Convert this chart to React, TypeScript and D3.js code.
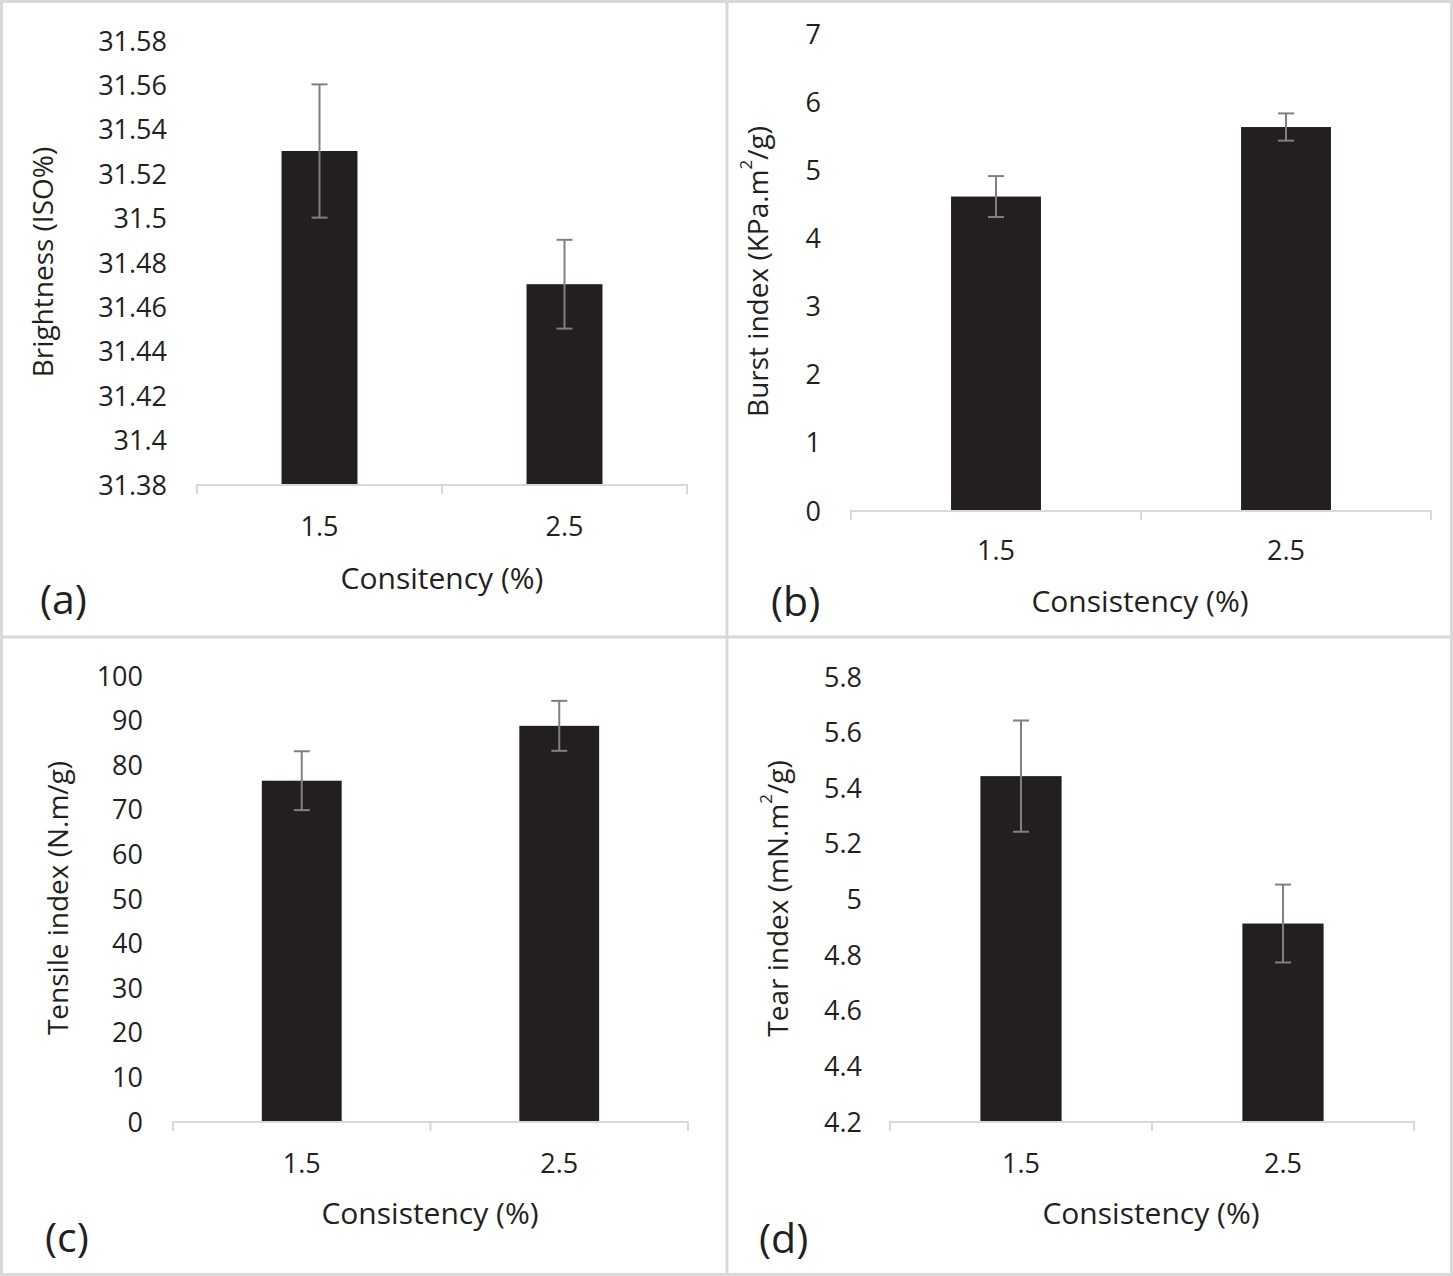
import React from "react";
import * as d3 from "d3";

const categories = ["1.5", "2.5"];

const brightnessValues = [31.53, 31.47];
const brightnessErrors = [0.03, 0.02];
const brightnessTicks = [31.38, 31.4, 31.42, 31.44, 31.46, 31.48, 31.5, 31.52, 31.54, 31.56, 31.58];

const burstValues = [4.6, 5.62];
const burstErrors = [0.3, 0.2];
const burstTicks = [0, 1, 2, 3, 4, 5, 6, 7];

const tensileValues = [76.3, 88.6];
const tensileErrors = [6.6, 5.6];
const tensileTicks = [0, 10, 20, 30, 40, 50, 60, 70, 80, 90, 100];

const tearValues = [5.44, 4.91];
const tearErrors = [0.2, 0.14];
const tearTicks = [4.2, 4.4, 4.6, 4.8, 5, 5.2, 5.4, 5.6, 5.8];

const W = 1453;
const H = 1276;
const FONT = "'Open Sans', Lato, sans-serif";
const TEXT = "#231f20";
const BAR = "#231f20";
const ERR = "#808080";
const AXIS = "#d9d9d9";
const TICK_FS = 27;
const TITLE_FS = 28;
const XTITLE_FS = 30;
const TAG_FS = 41;

type PanelProps = {
  values: number[];
  errors: number[];
  ticks: number[];
  x0: number;
  x1: number;
  yTop: number;
  yBot: number;
  labelX: number;
  titleX: number;
  title: React.ReactNode;
  xLabelY: number;
  xTitle: string;
  xTitleX: number;
  xTitleY: number;
  tag: string;
  tagX: number;
  tagY: number;
};

function Panel(p: PanelProps) {
  const y = d3
    .scaleLinear()
    .domain([p.ticks[0], p.ticks[p.ticks.length - 1]])
    .range([p.yBot, p.yTop]);
  const x = d3
    .scaleBand<string>()
    .domain(categories)
    .range([p.x0, p.x1])
    .paddingInner(0.69)
    .paddingOuter(0.345);
  const fmt = (v: number) => String(+v.toFixed(4));
  const mid = (p.x0 + p.x1) / 2;
  const titleY = (p.yTop + p.yBot) / 2;
  return (
    <g>
      {p.ticks.map((t) => (
        <text
          key={t}
          x={p.labelX}
          y={y(t)}
          textAnchor="end"
          dominantBaseline="central"
          fontSize={TICK_FS}
          fill={TEXT}
          fontFamily={FONT}
        >
          {fmt(t)}
        </text>
      ))}
      {categories.map((c, i) => {
        const bx = x(c) as number;
        const cx = bx + x.bandwidth() / 2;
        const hi = y(p.values[i] + p.errors[i]);
        const lo = y(p.values[i] - p.errors[i]);
        return (
          <g key={c}>
            <rect x={bx} y={y(p.values[i])} width={x.bandwidth()} height={p.yBot - y(p.values[i])} fill={BAR} />
            <line x1={cx} x2={cx} y1={hi} y2={lo} stroke={ERR} strokeWidth={2} />
            <line x1={cx - 8} x2={cx + 8} y1={hi} y2={hi} stroke={ERR} strokeWidth={2} />
            <line x1={cx - 8} x2={cx + 8} y1={lo} y2={lo} stroke={ERR} strokeWidth={2} />
            <text x={cx} y={p.xLabelY} textAnchor="middle" dominantBaseline="central" fontSize={TICK_FS} fill={TEXT} fontFamily={FONT}>
              {c}
            </text>
          </g>
        );
      })}
      <line x1={p.x0} x2={p.x1} y1={p.yBot + 1} y2={p.yBot + 1} stroke={AXIS} strokeWidth={2} />
      {[p.x0, mid, p.x1].map((tx, i) => (
        <line key={i} x1={tx} x2={tx} y1={p.yBot} y2={p.yBot + 10} stroke={AXIS} strokeWidth={2} />
      ))}
      <text
        transform={`translate(${p.titleX},${titleY}) rotate(-90)`}
        textAnchor="middle"
        dominantBaseline="central"
        fontSize={TITLE_FS}
        fill={TEXT}
        fontFamily={FONT}
      >
        {p.title}
      </text>
      <text x={p.xTitleX} y={p.xTitleY} textAnchor="middle" dominantBaseline="central" fontSize={XTITLE_FS} fill={TEXT} fontFamily={FONT}>
        {p.xTitle}
      </text>
      <text x={p.tagX} y={p.tagY} dominantBaseline="central" fontSize={TAG_FS} fill={TEXT} fontFamily={FONT}>
        {p.tag}
      </text>
    </g>
  );
}

function Sup({ children }: { children: React.ReactNode }) {
  return (
    <tspan baselineShift="super" fontSize={17}>
      {children}
    </tspan>
  );
}

export default function App() {
  return (
    <div style={{ position: "absolute", left: 0, top: 0 }}>
      <svg width={W} height={H} viewBox={`0 0 ${W} ${H}`} style={{ display: "block", background: "#fff" }}>
        <rect x={1.5} y={1.5} width={W - 3} height={H - 3} fill="#fff" stroke={AXIS} strokeWidth={3} />
        <line x1={727} x2={727} y1={0} y2={H} stroke={AXIS} strokeWidth={3} />
        <line x1={0} x2={W} y1={637} y2={637} stroke={AXIS} strokeWidth={3} />
        <Panel
          values={brightnessValues}
          errors={brightnessErrors}
          ticks={brightnessTicks}
          x0={197}
          x1={687}
          yTop={40}
          yBot={484}
          labelX={167}
          titleX={42}
          title="Brightness (ISO%)"
          xLabelY={525}
          xTitle="Consitency (%)"
          xTitleX={442}
          xTitleY={577}
          tag="(a)"
          tagX={40}
          tagY={598}
        />
        <Panel
          values={burstValues}
          errors={burstErrors}
          ticks={burstTicks}
          x0={851}
          x1={1431}
          yTop={33}
          yBot={510}
          labelX={821}
          titleX={757}
          title={
            <>
              Burst index (KPa.m<Sup>2</Sup>/g)
            </>
          }
          xLabelY={549}
          xTitle="Consistency (%)"
          xTitleX={1140}
          xTitleY={600}
          tag="(b)"
          tagX={771}
          tagY={600}
        />
        <Panel
          values={tensileValues}
          errors={tensileErrors}
          ticks={tensileTicks}
          x0={173}
          x1={688}
          yTop={675}
          yBot={1121}
          labelX={143}
          titleX={57}
          title="Tensile index (N.m/g)"
          xLabelY={1162}
          xTitle="Consistency (%)"
          xTitleX={430}
          xTitleY={1212}
          tag="(c)"
          tagX={45}
          tagY={1236}
        />
        <Panel
          values={tearValues}
          errors={tearErrors}
          ticks={tearTicks}
          x0={890}
          x1={1414}
          yTop={676}
          yBot={1121}
          labelX={862}
          titleX={777}
          title={
            <>
              Tear index (mN.m<Sup>2</Sup>/g)
            </>
          }
          xLabelY={1162}
          xTitle="Consistency (%)"
          xTitleX={1151}
          xTitleY={1212}
          tag="(d)"
          tagX={759}
          tagY={1237}
        />
      </svg>
    </div>
  );
}
